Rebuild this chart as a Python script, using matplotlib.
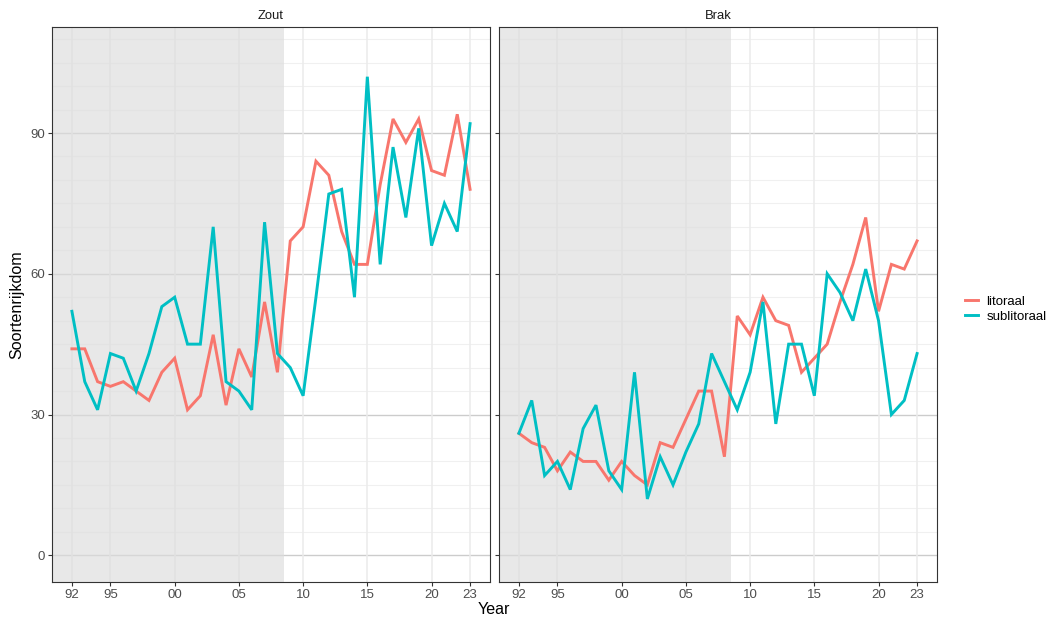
import matplotlib
matplotlib.use("Agg")
import matplotlib.pyplot as plt
from matplotlib.lines import Line2D

plt.rcParams['font.family'] = ['Liberation Sans', 'DejaVu Sans']

years = list(range(1992, 2024))
year_ticks = [1992, 1995, 2000, 2005, 2010, 2015, 2020, 2023]
year_labels = ['92', '95', '00', '05', '10', '15', '20', '23']
panels = ['Zout', 'Brak']
series = ['litoraal', 'sublitoraal']
colors = {'litoraal': '#F8766D', 'sublitoraal': '#00BFC4'}

zout_litoraal = [44, 44, 37, 36, 37, 35, 33, 39, 42, 31, 34, 47, 32, 44, 38, 54,
                 39, 67, 70, 84, 81, 69, 62, 62, 79, 93, 88, 93, 82, 81, 94, 78]
zout_sublitoraal = [52, 37, 31, 43, 42, 35, 43, 53, 55, 45, 45, 70, 37, 35, 31, 71,
                    43, 40, 34, 55, 77, 78, 55, 102, 62, 87, 72, 91, 66, 75, 69, 92]
brak_litoraal = [26, 24, 23, 18, 22, 20, 20, 16, 20, 17, 15, 24, 23, 29, 35, 35,
                 21, 51, 47, 55, 50, 49, 39, 42, 45, 54, 62, 72, 52, 62, 61, 67]
brak_sublitoraal = [26, 33, 17, 20, 14, 27, 32, 18, 14, 39, 12, 21, 15, 22, 28, 43,
                    37, 31, 39, 54, 28, 45, 45, 34, 60, 56, 50, 61, 50, 30, 33, 43]

data = {
    'Zout': {'litoraal': zout_litoraal, 'sublitoraal': zout_sublitoraal},
    'Brak': {'litoraal': brak_litoraal, 'sublitoraal': brak_sublitoraal},
}
shade_end = 2008.5

W, H = 1048, 619
fig = plt.figure(figsize=(W / 100, H / 100), dpi=100)

# panel boxes in pixels: (left, right), top 27, bottom 582
boxes = [(52, 490), (499, 937)]
top, bottom = 27, 582

for (x0, x1), name in zip(boxes, panels):
    ax = fig.add_axes([x0 / W, (H - bottom) / H, (x1 - x0) / W, (bottom - top) / H])
    ax.set_xlim(1990.45, 2024.55)
    ax.set_ylim(-5.7, 112.6)

    # grid
    for y in range(0, 115, 5):
        if y % 30 == 0:
            ax.axhline(y, color='#cccccc', lw=1.0, zorder=0)
        else:
            ax.axhline(y, color='#f0f0f0', lw=0.8, zorder=0)
    for x in year_ticks:
        ax.axvline(x, color='#ebebeb', lw=1.1, zorder=0)

    ax.axvspan(1990.45, shade_end, color='#dcdcdc', alpha=0.65, lw=0, zorder=1)

    for s in series:
        ax.plot(years, data[name][s], color=colors[s], lw=2.1, zorder=3,
                solid_joinstyle='miter')

    ax.set_xticks(year_ticks)
    ax.set_xticklabels(year_labels)
    ax.set_yticks([0, 30, 60, 90])
    if name != 'Zout':
        ax.set_yticklabels([])
        ax.tick_params(axis='y', length=0)
    ax.tick_params(colors='#333333', labelcolor='#4d4d4d', labelsize=9.5,
                   length=3, width=0.8, pad=2)
    for sp in ax.spines.values():
        sp.set_color('#333333')
        sp.set_linewidth(0.8)
    ax.set_title(name, fontsize=9.4, color='#1a1a1a', pad=6)

fig.text(17 / W, 1 - 305 / H, 'Soortenrijkdom', rotation=90, fontsize=11.6,
         ha='center', va='center')
fig.text(494 / W, 1 - 609 / H, 'Year', fontsize=11.6, ha='center', va='center')

handles = [Line2D([0], [0], color=colors[s], lw=2.1) for s in series]
fig.legend(handles, series, loc='center left', bbox_to_anchor=(960 / W, 1 - 309 / H),
           frameon=False, fontsize=9.5, handlelength=0.95, handletextpad=0.65,
           labelspacing=0.2, borderaxespad=0)

fig.savefig('out.png', dpi=100)
